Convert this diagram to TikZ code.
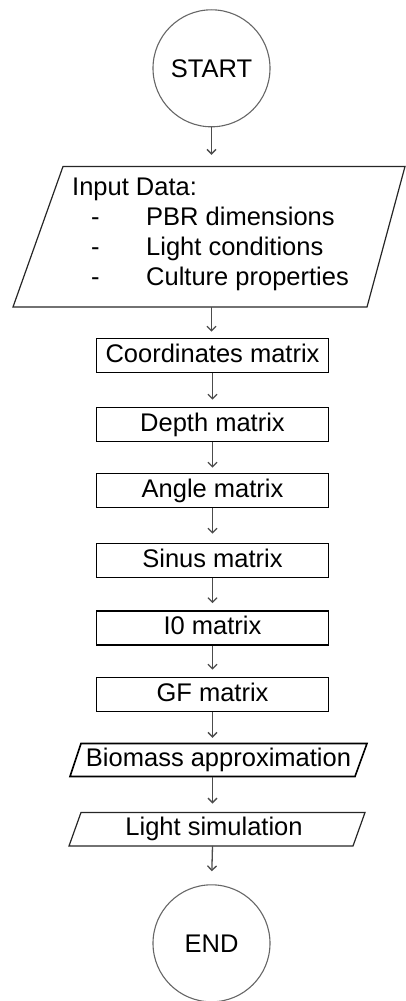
\documentclass[tikz,border=0pt]{standalone}
\usepackage{fontspec}
\setmainfont{Liberation Sans}
\usetikzlibrary{arrows.meta}
\begin{document}
\begin{tikzpicture}[x=1pt,y=-1pt,
  every node/.style={font=\fontsize{25.5}{30}\selectfont, inner sep=0pt},
  term/.style={circle, draw=black!60, line width=1.1pt, minimum size=117pt, text height=18.3pt, text depth=0pt},
  procbox/.style={rectangle, draw=black, line width=1.7pt, minimum width=232pt, minimum height=34pt, text height=18.3pt, text depth=5pt},
  iobox/.style={rectangle, minimum height=33pt, text height=18.3pt, text depth=5pt},
  arr/.style={draw=black!70, line width=1.3pt, -{Straight Barb[length=4.5pt,width=9pt,line width=1.3pt]}, shorten >=7pt},
  pgram/.style={line join=miter}
]
\useasboundingbox (0,0) rectangle (406,1001);

% START
\node[term] (start) at (211.5,68.3) {START};

% Input data parallelogram
\node[rectangle, minimum width=300pt, minimum height=140.5pt] (in) at (212,236.75) {};
\draw[pgram, draw=black!85, line width=1.2pt] (63,166.5) -- (405,166.5) -- (367,307) -- (13,307) -- cycle;
\node[anchor=north west, align=left] (intext) at (72,177.5)
  {Input Data:\\
   \hspace*{19pt}\makebox[55pt][l]{-}PBR dimensions\\
   \hspace*{19pt}\makebox[55pt][l]{-}Light conditions\\
   \hspace*{19pt}\makebox[55pt][l]{-}Culture properties};

% process boxes
\node[procbox] (coord) at (212.5,355.5) {Coordinates matrix};
\node[procbox] (depth) at (212.5,424.5) {Depth matrix};
\node[procbox] (angle) at (212.5,490.5) {Angle matrix};
\node[procbox] (sinus) at (212.5,560.5) {Sinus matrix};
\node[procbox] (izero) at (212.5,628) {I0 matrix};
\node[procbox] (gf) at (212.5,694.5) {GF matrix};

% Biomass approximation
\node[iobox, minimum width=280pt] (bio) at (218.5,760) {Biomass approximation};
\draw[pgram, draw=black, line width=1.6pt] (81,743.5) -- (367,743.5) -- (355,776.5) -- (70,776.5) -- cycle;

% Light simulation
\node[iobox, minimum width=280pt] (light) at (214,829.25) {Light simulation};
\draw[pgram, draw=black!85, line width=1.2pt] (81,812.5) -- (365,812.5) -- (353,846) -- (69,846) -- cycle;

% END
\node[term] (end) at (211.5,943.3) {END};

% connectors
\draw[arr, shorten >=11.5pt] (start.south) -- (start.south |- in.north);
\draw[arr, shorten >=6pt] (start.south |- in.south) -- (start.south |- coord.north);
\draw[arr] (coord.south) -- (depth.north);
\draw[arr, shorten >=5pt] (depth.south) -- (angle.north);
\draw[arr, shorten >=9pt] (angle.south) -- (sinus.north);
\draw[arr] (sinus.south) -- (izero.north);
\draw[arr] (izero.south) -- (gf.north);
\draw[arr, shorten >=5.5pt] (gf.south) -- (gf.south |- bio.north);
\draw[arr, shorten >=9pt] (gf.south |- bio.south) -- (gf.south |- light.north);
\draw[arr, shorten >=13pt] (gf.south |- light.south) -- (end.north);
\end{tikzpicture}
\end{document}
